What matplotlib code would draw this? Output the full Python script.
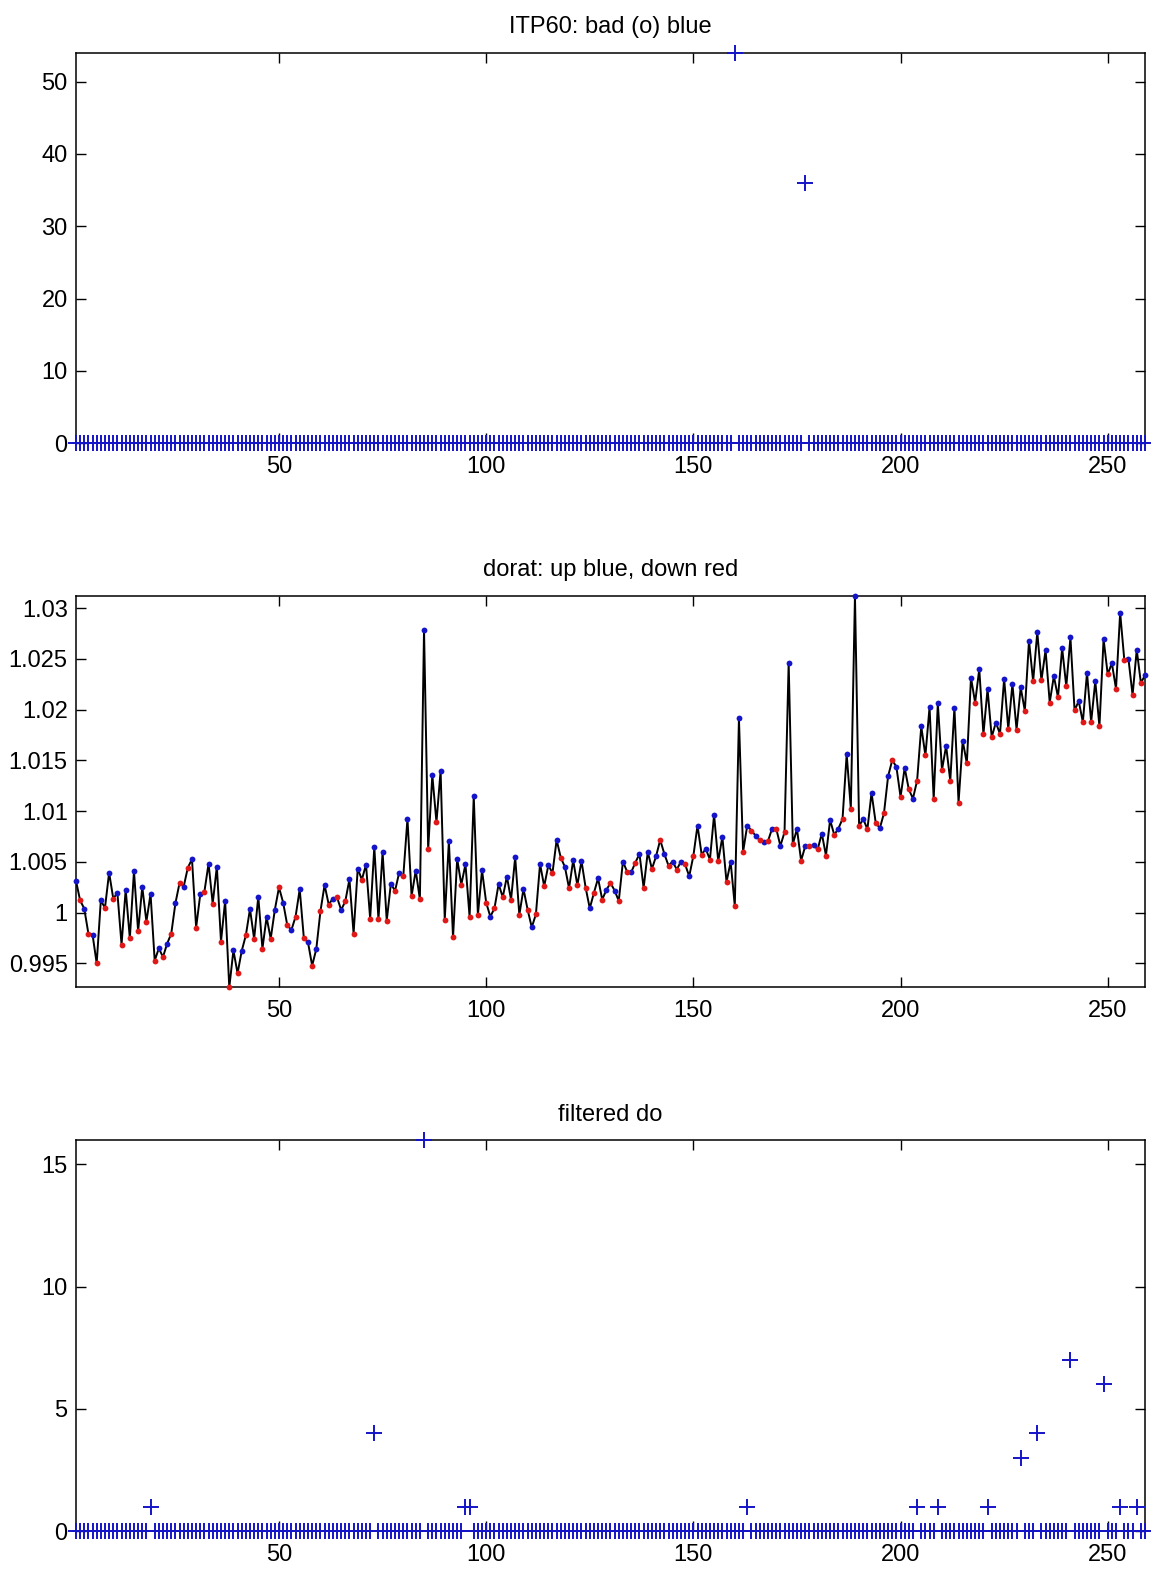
import numpy as np
import matplotlib
matplotlib.use("Agg")
import matplotlib.pyplot as plt

plt.rcParams['font.family'] = ['Liberation Sans', 'DejaVu Sans']
plt.rcParams['font.size'] = 17

# profile numbers 1..259
n_prof = 259

# bad flags (only non-zero profiles listed)
bad_prof = [160, 177]
bad_val = [54, 36]

# dissolved oxygen ratio, one value per profile
dorat = [
    1.00315, 1.0012, 1.00039, 0.99793, 0.99783, 0.995, 1.0012, 1.00046, 1.00394, 1.00138,
    1.00194, 0.99684, 1.00226, 0.99747, 1.0041, 0.99816, 1.00253, 0.99911, 1.00184, 0.99526,
    0.99648, 0.99562, 0.99694, 0.99793, 1.00092, 1.00292, 1.00256, 1.00443, 1.00526, 0.99852,
    1.0018, 1.00207, 1.00483, 1.00088, 1.00453, 0.99714, 1.00115, 0.99263, 0.99628, 0.99401,
    0.99622, 0.99776, 1.00036, 0.9974, 1.00157, 0.99645, 0.99954, 0.99743, 1.00029, 1.00249,
    1.00098, 0.99875, 0.99829, 0.9996, 1.0023, 0.99747, 0.99707, 0.99477, 0.99641, 1.00013,
    1.00272, 1.00079, 1.00138, 1.00151, 1.00026, 1.00111, 1.00328, 0.99793, 1.00433, 1.00325,
    1.00473, 0.9994, 1.00647, 0.99934, 1.00595, 0.99921, 1.00286, 1.00213, 1.00394, 1.00361,
    1.00923, 1.00164, 1.00414, 1.00131, 1.02787, 1.00624, 1.01354, 1.0089, 1.01397, 0.99931,
    1.00706, 0.99756, 1.00529, 1.00276, 1.00476, 0.99957, 1.0115, 0.99977, 1.00417, 1.00098,
    0.9996, 1.00042, 1.00282, 1.00151, 1.00355, 1.00128, 1.00545, 0.99977, 1.00233, 1.00029,
    0.99855, 0.99983, 1.0048, 1.00259, 1.00466, 1.00391, 1.00716, 1.00542, 1.0045, 1.0024,
    1.00516, 1.00269, 1.00509, 1.00246, 1.00042, 1.00194, 1.00338, 1.00128, 1.00223, 1.00292,
    1.00217, 1.00115, 1.00503, 1.00404, 1.00397, 1.00493, 1.00578, 1.00243, 1.00598, 1.0043,
    1.00555, 1.00716, 1.00578, 1.00463, 1.00503, 1.00424, 1.00503, 1.00476, 1.00358, 1.00558,
    1.00858, 1.00572, 1.00627, 1.00522, 1.00963, 1.00506, 1.00746, 1.00302, 1.00499, 1.00065,
    1.01913, 1.00598, 1.00858, 1.00808, 1.00759, 1.00713, 1.00693, 1.00703, 1.00828, 1.00828,
    1.00657, 1.00792, 1.02462, 1.00673, 1.00825, 1.00512, 1.00654, 1.00654, 1.00664, 1.00624,
    1.00779, 1.00562, 1.00913, 1.00766, 1.00828, 1.00923, 1.01561, 1.01025, 1.03122, 1.00854,
    1.00923, 1.00821, 1.0118, 1.00887, 1.00831, 1.00979, 1.01344, 1.01502, 1.01436, 1.0114,
    1.01426, 1.01213, 1.01124, 1.01301, 1.01834, 1.01548, 1.02024, 1.0112, 1.02061, 1.01406,
    1.01643, 1.01298, 1.02018, 1.01084, 1.01692, 1.01472, 1.02314, 1.0207, 1.02399, 1.01758,
    1.02202, 1.01729, 1.01873, 1.01761, 1.02304, 1.01811, 1.02251, 1.01804, 1.02218, 1.01988,
    1.02679, 1.02278, 1.02764, 1.02287, 1.02587, 1.0207, 1.0233, 1.02123, 1.02606, 1.02228,
    1.02711, 1.01992, 1.02084, 1.01877, 1.02363, 1.01877, 1.02281, 1.01834, 1.02695, 1.02347,
    1.02458, 1.02205, 1.02955, 1.02491, 1.02501, 1.02143, 1.0259, 1.02264, 1.02337,
]

# filtered do counts (only non-zero profiles listed)
filt_prof = [19, 73, 85, 95, 96, 163, 204, 209, 221, 229, 233, 241, 249, 253, 257]
filt_val = [1, 4, 16, 1, 1, 1, 1, 1, 1, 3, 4, 7, 6, 1, 1]

prof = np.arange(1, n_prof + 1)
bad = np.zeros(n_prof)
bad[np.array(bad_prof) - 1] = bad_val
filt = np.zeros(n_prof)
filt[np.array(filt_prof) - 1] = filt_val
dorat = np.array(dorat)
up = prof % 2 == 1

BLUE = '#1414c8'
RED = '#e01818'

fig = plt.figure(figsize=(11.51, 15.74), dpi=100)
left, width = 0.066, 0.9288
ax1 = fig.add_axes([left, 0.7184, width, 0.2482])
ax2 = fig.add_axes([left, 0.3727, width, 0.2488])
ax3 = fig.add_axes([left, 0.0273, width, 0.2484])


def style(ax, yticks, ylabels=None):
    ax.set_xlim(1, n_prof)
    ax.set_xticks([50, 100, 150, 200, 250])
    ax.set_yticks(yticks)
    if ylabels is not None:
        ax.set_yticklabels(ylabels)
    ax.tick_params(direction='in', length=7.5, width=1.0, top=True, right=True,
                   labelsize=17)
    ax.tick_params(axis='x', pad=9)
    ax.tick_params(axis='y', pad=6)
    for s in ax.spines.values():
        s.set_linewidth(1.1)


# top: bad flags
ax1.plot(prof, bad, '+', color=BLUE, ms=11, mew=1.4, clip_on=False, zorder=3)
ax1.set_ylim(bad.min(), bad.max())
style(ax1, [0, 10, 20, 30, 40, 50])
ax1.set_title('ITP60: bad (o) blue', fontsize=17, pad=14)

# middle: oxygen ratio, up/down profiles
ax2.plot(prof, dorat, '-', color='black', lw=1.4, zorder=2)
ax2.plot(prof[up], dorat[up], 'o', color=BLUE, ms=4.2, mew=0, zorder=3, clip_on=False)
ax2.plot(prof[~up], dorat[~up], 'o', color=RED, ms=4.2, mew=0, zorder=3, clip_on=False)
ax2.set_ylim(dorat.min(), dorat.max())
yt = [0.995, 1.0, 1.005, 1.01, 1.015, 1.02, 1.025, 1.03]
style(ax2, yt, ['0.995', '1', '1.005', '1.01', '1.015', '1.02', '1.025', '1.03'])
ax2.set_title('dorat: up blue, down red', fontsize=17, pad=14)

# bottom: filtered do
ax3.plot(prof, filt, '+', color=BLUE, ms=11, mew=1.4, clip_on=False, zorder=3)
ax3.set_ylim(filt.min(), filt.max())
style(ax3, [0, 5, 10, 15])
ax3.set_title('filtered do', fontsize=17, pad=14)

fig.savefig('out.png', dpi=100)
